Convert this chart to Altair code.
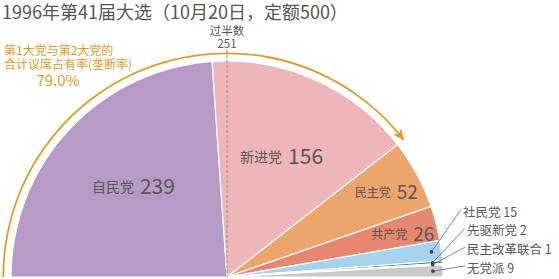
import math
import altair as alt
import pandas as pd

# ---- data ----
parties = ["自民党", "新进党", "民主党", "共产党", "社民党", "先驱新党", "民主改革联合", "无党派"]
seats = [239, 156, 52, 26, 15, 2, 1, 9]
colors = ["#b59bc6", "#eeb6b9", "#eca66b", "#e8876f", "#a6d4ef", "#4e9a5e", "#e4e02a", "#c9c9c9"]
title_text = "1996年第41届大选（10月20日，定额500）"
note_lines = ["第1大党与第2大党的", "合计议席占有率(垄断率)"]
majority_lines = ["过半数", "251"]

total = sum(seats)
share = (seats[0] + seats[1]) / total
share_label = f"{share * 100:.1f}%"

# ---- style / layout ----
FONT = "Noto Sans CJK SC"
TEXT = "#595757"
ORANGE = "#e29a24"
CX, CY = 227, 277
R = 216
RING_IN, RING_OUT = 222.8, 224.6
RD = 206  # radius of leader dots
ARROW = "M0,-1L0.85,0.8L0,0.3L-0.85,0.8Z"

df = pd.DataFrame({"party": parties, "seats": seats, "idx": list(range(len(parties)))})
one = pd.DataFrame({"k": [0]})

theta = alt.Theta("seats:Q", stack=True, scale=alt.Scale(range=[-math.pi / 2, math.pi / 2]))
base = alt.Chart(df).encode(
    theta=theta,
    order=alt.Order("idx:Q"),
    detail="party:N",
    x=alt.value(CX),
    y=alt.value(CY),
)

pie = base.mark_arc(outerRadius=R, stroke="white", strokeWidth=1.2).encode(
    color=alt.Color("party:N", scale=alt.Scale(domain=parties, range=colors), legend=None)
)

ring = base.mark_arc(innerRadius=RING_IN, outerRadius=RING_OUT).encode(
    color=alt.condition("datum.idx < 2", alt.value(ORANGE), alt.value("transparent"))
)

def slice_label(cond, radius, name_size, num_size, shift_x, shift_y):
    nm = base.transform_calculate(lbl=f"({cond}) ? datum.party : ''").mark_text(
        radius=radius, align="right", baseline="middle", dx=shift_x - 3, dy=shift_y,
        font=FONT, fontSize=name_size, color=TEXT
    ).encode(text="lbl:N")
    nu = base.transform_calculate(lbl=f"({cond}) ? ('' + datum.seats) : ''").mark_text(
        radius=radius, align="left", baseline="middle", dx=shift_x + 3, dy=shift_y,
        font=FONT, fontSize=num_size, color=TEXT
    ).encode(text="lbl:N")
    return [nm, nu]

big = slice_label("datum.idx < 2", 130, 14, 21, 5, 0)
mid = slice_label("datum.idx == 2 || datum.idx == 3", 185, 12, 19, 4, 4)

geo = (
    alt.Chart(df)
    .transform_window(cum="sum(seats)", sort=[alt.SortField("idx")], frame=[None, 0])
    .transform_joinaggregate(tot="sum(seats)")
    .transform_calculate(a="PI * (datum.cum - datum.seats / 2) / datum.tot")
    .transform_calculate(
        px=f"{CX} - {RD} * cos(datum.a)",
        py=f"{CY} - {RD} * sin(datum.a)",
        ly="212.5 + 18.8 * (datum.idx - 4)",
        lx="datum.idx == 4 ? 463 : 467",
        lbl="datum.party + ' ' + datum.seats",
    )
    .transform_calculate(lx2="datum.lx - 2", ly2="datum.ly - 3")
    .transform_filter("datum.idx >= 4")
)

leaders = geo.mark_rule(color="#666666", strokeWidth=0.8).encode(
    x=alt.X("px:Q", scale=None), y=alt.Y("py:Q", scale=None),
    x2="lx2:Q", y2="ly2:Q",
)
dots = geo.mark_circle(size=14, color="#444444", opacity=1).encode(
    x=alt.X("px:Q", scale=None), y=alt.Y("py:Q", scale=None)
)
ext_labels = geo.mark_text(align="left", baseline="middle", font=FONT, fontSize=12.5, color=TEXT).encode(
    x=alt.X("lx:Q", scale=None), y=alt.Y("ly:Q", scale=None), text="lbl:N"
)

arrow = (
    alt.Chart(df)
    .transform_window(cum="sum(seats)", sort=[alt.SortField("idx")], frame=[None, 0])
    .transform_joinaggregate(tot="sum(seats)")
    .transform_filter("datum.idx == 1")
    .transform_calculate(e="PI * datum.cum / datum.tot")
    .transform_calculate(
        c=f"datum.e - 6 / {(RING_IN + RING_OUT) / 2}",
        ang="datum.e * 180 / PI",
    )
    .transform_calculate(
        ax=f"{CX} - {(RING_IN + RING_OUT) / 2} * cos(datum.c)",
        ay=f"{CY} - {(RING_IN + RING_OUT) / 2} * sin(datum.c)",
    )
    .mark_point(shape=ARROW, filled=True, size=150, color=ORANGE, opacity=1, strokeWidth=0)
    .encode(
        x=alt.X("ax:Q", scale=None), y=alt.Y("ay:Q", scale=None),
        angle=alt.Angle("ang:Q", scale=None),
    )
)

half_rule = alt.Chart(one).mark_rule(color="#9a9a9a", strokeDash=[3, 2], strokeWidth=1.2).encode(
    x=alt.value(CX), y=alt.value(50), y2=alt.value(CY)
)

def label(text, x, y, size, color=TEXT, align="left"):
    return alt.Chart(one).mark_text(
        text=text, align=align, baseline="middle", font=FONT, fontSize=size, color=color
    ).encode(x=alt.value(x), y=alt.value(y))

annotations = [
    label(title_text, 2, 14, 18, color="#555555"),
    label(majority_lines[0], CX, 32, 11.5, align="center"),
    label(majority_lines[1], CX, 44.5, 11.5, align="center"),
    label(note_lines[0], 4, 50.5, 12, color=ORANGE),
    label(note_lines[1], 4, 64.5, 12, color=ORANGE),
    label(share_label, 58, 81, 15, color=ORANGE, align="center"),
]

chart = alt.layer(
    pie, ring, half_rule, *big, *mid, leaders, dots, ext_labels, arrow, *annotations
).properties(
    width=559, height=279, padding=0, autosize=alt.AutoSizeParams(type="none")
).configure_view(strokeWidth=0)

chart.save("out.html", embed_options={"renderer": "svg", "actions": False})
